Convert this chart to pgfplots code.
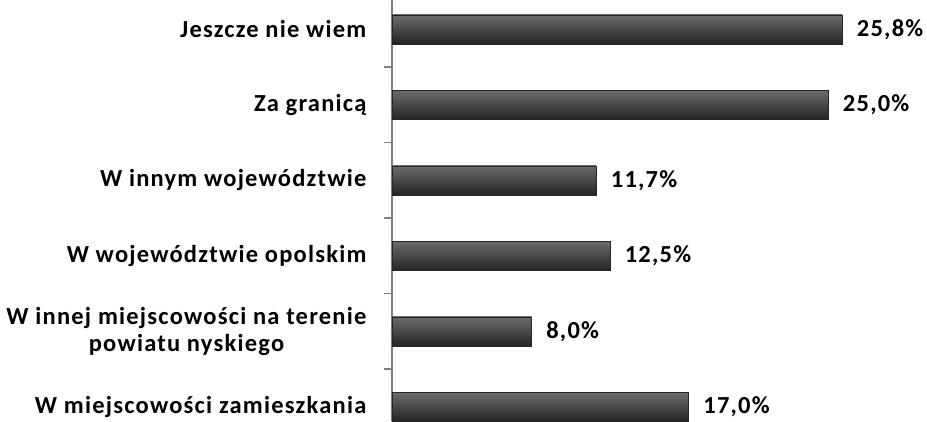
\documentclass[border=0pt]{standalone}
\usepackage{pgfplots}
\pgfplotsset{compat=1.18}
\usepackage{fontspec}
\setmainfont[LetterSpace=5]{Carlito}
\begin{document}
\begin{tikzpicture}
\begin{axis}[
  name=ax,
  scale only axis,
  width=535pt, height=421pt,
  xmin=0, xmax=30.66,
  ymin=-0.186, ymax=5.39,
  axis x line=none,
  axis y line*=left,
  axis line style={draw=black!50, line width=1.5pt},
  xbar, bar width=29pt, bar shift=0pt,
  ytick={0,1,2,3,4,5},
  yticklabels={W miejscowości zamieszkania,{W innej miejscowości na terenie\\powiatu nyskiego},W województwie opolskim,W innym województwie,Za granicą,Jeszcze nie wiem},
  yticklabel style={align=center, font=\fontsize{24.5}{27}\selectfont\bfseries, xshift=-22pt},
  major tick length=0pt,
  minor ytick={0.5,1.5,2.5,3.5,4.5},
  minor tick length=8pt,
  tick style={draw=black!50, line width=1.5pt},
  tick align=outside,
  point meta=x,
  nodes near coords={\pgfmathprintnumber[fixed,fixed zerofill,precision=1,use comma,assume math mode=true]{\pgfplotspointmeta}\%},
  every node near coord/.append style={font=\fontsize{24.5}{27}\selectfont\bfseries, xshift=11pt, black},
  barstyle/.style={draw=black!85, line width=0.8pt, shading=axis, top color=black!58, middle color=black!76, bottom color=black!86},
  clip=false,
]
\addplot[barstyle] coordinates {(17.0,0)};
\addplot[barstyle] coordinates {(8.0,1)};
\addplot[barstyle] coordinates {(12.5,2)};
\addplot[barstyle] coordinates {(11.7,3)};
\addplot[barstyle] coordinates {(25.0,4)};
\addplot[barstyle] coordinates {(25.8,5)};
\end{axis}
\pgfresetboundingbox
\useasboundingbox ([xshift=-927pt]ax.south east) rectangle (ax.north east);
\end{tikzpicture}
\end{document}
